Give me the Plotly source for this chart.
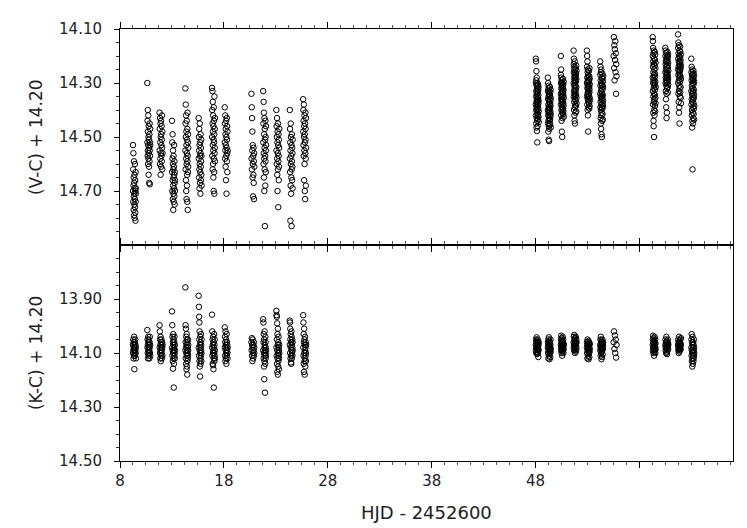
import numpy as np
import plotly.graph_objects as go
from plotly.subplots import make_subplots

# Night mid-times (HJD - 2452600)
night_hjd = [9.39, 10.77, 11.95, 13.15, 14.43, 15.71, 17.00, 18.22, 20.79, 21.92, 23.19, 24.48, 25.77,
             48.16, 49.32, 50.57, 51.80, 53.08, 54.36, 55.65, 59.41, 60.63, 61.85, 63.13]
night_span = 0.28  # duration of each night's run (days)

# (V-C) + 14.20 per night
vc_by_night = [
    [14.53, 14.70, 14.62, 14.74, 14.56, 14.68, 14.77, 14.65, 14.72, 14.59, 14.79, 14.67, 14.71, 14.75, 14.64, 14.80, 14.69, 14.73, 14.60, 14.76, 14.66, 14.78, 14.70, 14.81, 14.63, 14.74, 14.71, 14.69],
    [14.30, 14.52, 14.44, 14.57, 14.40, 14.55, 14.48, 14.60, 14.53, 14.42, 14.58, 14.50, 14.64, 14.46, 14.56, 14.51, 14.61, 14.54, 14.67, 14.49, 14.59, 14.45, 14.55, 14.675, 14.52, 14.57, 14.47, 14.53],
    [14.41, 14.55, 14.47, 14.60, 14.43, 14.52, 14.58, 14.45, 14.64, 14.50, 14.56, 14.44, 14.61, 14.49, 14.53, 14.57, 14.46, 14.59, 14.51, 14.42, 14.54, 14.62, 14.48, 14.56],
    [14.44, 14.63, 14.52, 14.70, 14.58, 14.49, 14.66, 14.73, 14.60, 14.55, 14.68, 14.77, 14.62, 14.71, 14.57, 14.65, 14.74, 14.61, 14.69, 14.53, 14.64, 14.72, 14.59, 14.67, 14.75, 14.63, 14.70, 14.66],
    [14.32, 14.55, 14.45, 14.62, 14.38, 14.50, 14.66, 14.42, 14.58, 14.70, 14.48, 14.53, 14.73, 14.60, 14.44, 14.56, 14.68, 14.51, 14.64, 14.74, 14.47, 14.59, 14.41, 14.57, 14.77, 14.52, 14.63, 14.49, 14.61, 14.54],
    [14.43, 14.58, 14.50, 14.65, 14.55, 14.47, 14.62, 14.69, 14.53, 14.60, 14.45, 14.57, 14.67, 14.52, 14.63, 14.71, 14.56, 14.49, 14.61, 14.54, 14.66, 14.59, 14.51, 14.64, 14.57, 14.68],
    [14.318, 14.50, 14.40, 14.57, 14.33, 14.45, 14.62, 14.37, 14.53, 14.48, 14.60, 14.42, 14.55, 14.65, 14.46, 14.51, 14.70, 14.39, 14.58, 14.44, 14.52, 14.63, 14.49, 14.71, 14.35, 14.56, 14.47, 14.54, 14.43, 14.59],
    [14.39, 14.52, 14.45, 14.58, 14.42, 14.55, 14.49, 14.61, 14.47, 14.53, 14.66, 14.44, 14.57, 14.50, 14.71, 14.54, 14.43, 14.59, 14.51, 14.46, 14.56, 14.63, 14.48, 14.55],
    [14.34, 14.58, 14.39, 14.62, 14.43, 14.55, 14.48, 14.65, 14.53, 14.60, 14.72, 14.57, 14.64, 14.54, 14.67, 14.59, 14.73, 14.56, 14.61],
    [14.33, 14.52, 14.45, 14.60, 14.37, 14.56, 14.41, 14.65, 14.49, 14.58, 14.70, 14.43, 14.54, 14.62, 14.47, 14.83, 14.51, 14.57, 14.68, 14.44, 14.59, 14.50, 14.63, 14.55, 14.46, 14.53],
    [14.40, 14.55, 14.46, 14.60, 14.50, 14.43, 14.58, 14.64, 14.52, 14.70, 14.48, 14.56, 14.62, 14.45, 14.53, 14.76, 14.59, 14.49, 14.57, 14.66, 14.51, 14.61, 14.54, 14.47],
    [14.40, 14.58, 14.47, 14.63, 14.52, 14.81, 14.55, 14.68, 14.45, 14.60, 14.50, 14.71, 14.57, 14.65, 14.53, 14.83, 14.62, 14.49, 14.59, 14.66, 14.54, 14.61, 14.56, 14.69, 14.51],
    [14.36, 14.48, 14.40, 14.53, 14.44, 14.57, 14.38, 14.50, 14.66, 14.46, 14.55, 14.42, 14.60, 14.49, 14.70, 14.52, 14.45, 14.73, 14.56, 14.41, 14.51, 14.47, 14.58, 14.68, 14.43, 14.54],
    [14.21, 14.38, 14.30, 14.42, 14.22, 14.35, 14.45, 14.29, 14.40, 14.33, 14.256, 14.37, 14.465, 14.31, 14.39, 14.28, 14.43, 14.34, 14.478, 14.36, 14.41, 14.32, 14.44, 14.38, 14.52, 14.30, 14.35, 14.40, 14.33, 14.46, 14.37, 14.31, 14.42, 14.36,
     14.335, 14.385, 14.305, 14.415, 14.355, 14.435, 14.325, 14.395, 14.345, 14.375, 14.425, 14.315, 14.365, 14.405, 14.445],
    [14.28, 14.40, 14.33, 14.45, 14.36, 14.30, 14.42, 14.48, 14.38, 14.32, 14.44, 14.35, 14.41, 14.51, 14.31, 14.39, 14.46, 14.34, 14.43, 14.37, 14.515, 14.40, 14.47, 14.33, 14.42, 14.36, 14.39, 14.45, 14.35, 14.41, 14.38, 14.44,
     14.345, 14.395, 14.315, 14.435, 14.375, 14.455, 14.335, 14.405, 14.365, 14.425, 14.385, 14.325, 14.415, 14.355, 14.465],
    [14.20, 14.34, 14.27, 14.38, 14.30, 14.25, 14.36, 14.42, 14.32, 14.28, 14.40, 14.35, 14.44, 14.29, 14.37, 14.31, 14.48, 14.33, 14.39, 14.34, 14.41, 14.36, 14.50, 14.30, 14.38, 14.32, 14.43, 14.35, 14.37, 14.33, 14.40, 14.31,
     14.315, 14.365, 14.285, 14.395, 14.335, 14.415, 14.305, 14.375, 14.345, 14.405, 14.325, 14.385, 14.295, 14.355, 14.425],
    [14.18, 14.30, 14.23, 14.35, 14.26, 14.21, 14.33, 14.40, 14.28, 14.24, 14.37, 14.31, 14.42, 14.25, 14.34, 14.29, 14.44, 14.27, 14.36, 14.22, 14.32, 14.39, 14.45, 14.30, 14.26, 14.35, 14.38, 14.28, 14.33, 14.31, 14.41, 14.29, 14.34,
     14.275, 14.325, 14.245, 14.365, 14.295, 14.385, 14.265, 14.345, 14.235, 14.315, 14.405, 14.285, 14.355, 14.255, 14.375],
    [14.18, 14.30, 14.24, 14.35, 14.20, 14.28, 14.38, 14.32, 14.22, 14.34, 14.26, 14.40, 14.31, 14.36, 14.25, 14.42, 14.29, 14.33, 14.27, 14.48, 14.35, 14.30, 14.37, 14.32, 14.28, 14.34, 14.39, 14.31, 14.36, 14.29,
     14.295, 14.345, 14.255, 14.375, 14.315, 14.395, 14.275, 14.335, 14.245, 14.325, 14.385, 14.285, 14.355, 14.305, 14.365],
    [14.22, 14.34, 14.27, 14.39, 14.31, 14.24, 14.37, 14.43, 14.29, 14.35, 14.45, 14.26, 14.40, 14.33, 14.47, 14.30, 14.38, 14.25, 14.42, 14.36, 14.49, 14.32, 14.41, 14.28, 14.36, 14.50, 14.34, 14.39, 14.31, 14.44, 14.35,
     14.305, 14.355, 14.265, 14.395, 14.325, 14.415, 14.285, 14.375, 14.345, 14.435, 14.295, 14.385, 14.315, 14.365, 14.275],
    [14.20, 14.13, 14.245, 14.16, 14.29, 14.175, 14.215, 14.145, 14.26, 14.19, 14.34, 14.23, 14.275],
    [14.13, 14.28, 14.20, 14.33, 14.145, 14.24, 14.38, 14.17, 14.30, 14.22, 14.41, 14.26, 14.35, 14.19, 14.44, 14.29, 14.46, 14.23, 14.32, 14.18, 14.37, 14.27, 14.50, 14.21, 14.34, 14.25, 14.40, 14.31, 14.36, 14.28, 14.42, 14.30,
     14.235, 14.305, 14.185, 14.345, 14.265, 14.385, 14.215, 14.325, 14.275, 14.405, 14.195, 14.295, 14.355, 14.245, 14.375, 14.225, 14.315],
    [14.17, 14.26, 14.20, 14.30, 14.23, 14.18, 14.28, 14.33, 14.22, 14.36, 14.25, 14.19, 14.29, 14.39, 14.24, 14.31, 14.21, 14.27, 14.43, 14.34, 14.26, 14.30, 14.22, 14.41, 14.28, 14.24, 14.32, 14.27, 14.20, 14.29,
     14.215, 14.265, 14.185, 14.295, 14.235, 14.315, 14.205, 14.275, 14.335, 14.245, 14.195, 14.285, 14.225, 14.305, 14.255],
    [14.12, 14.25, 14.17, 14.30, 14.21, 14.15, 14.27, 14.34, 14.19, 14.24, 14.37, 14.22, 14.29, 14.16, 14.33, 14.41, 14.26, 14.20, 14.31, 14.39, 14.23, 14.28, 14.18, 14.45, 14.25, 14.32, 14.22, 14.27, 14.35, 14.24,
     14.205, 14.255, 14.165, 14.295, 14.225, 14.335, 14.185, 14.275, 14.215, 14.315, 14.245, 14.355, 14.195, 14.285, 14.235, 14.375],
    [14.21, 14.33, 14.26, 14.38, 14.29, 14.24, 14.36, 14.42, 14.31, 14.27, 14.40, 14.34, 14.465, 14.28, 14.37, 14.25, 14.44, 14.32, 14.62, 14.35, 14.30, 14.41, 14.27, 14.39, 14.33, 14.45, 14.30, 14.36, 14.29, 14.43,
     14.285, 14.335, 14.255, 14.375, 14.305, 14.415, 14.265, 14.355, 14.325, 14.395, 14.275, 14.345, 14.435, 14.295, 14.385],
]

# (K-C) + 14.20 per night
kc_by_night = [
    [14.07, 14.10, 14.05, 14.09, 14.12, 14.06, 14.08, 14.11, 14.04, 14.09, 14.16, 14.07, 14.10, 14.06, 14.08, 14.11, 14.05, 14.09, 14.07, 14.10, 14.08, 14.12],
    [14.015, 14.08, 14.05, 14.10, 14.07, 14.12, 14.04, 14.09, 14.06, 14.11, 14.08, 14.05, 14.10, 14.07, 14.09, 14.12, 14.06, 14.08, 14.04, 14.10, 14.07, 14.11],
    [13.997, 14.08, 14.02, 14.10, 14.05, 14.12, 14.07, 14.04, 14.09, 14.13, 14.06, 14.11, 14.08, 14.05, 14.10, 14.07, 14.09, 14.12, 14.06, 14.08, 14.11, 14.07],
    [13.946, 14.08, 13.997, 14.11, 14.04, 14.09, 14.13, 14.06, 14.158, 14.10, 14.03, 14.07, 14.12, 14.05, 14.228, 14.09, 14.14, 14.08, 14.06, 14.11, 14.04, 14.10, 14.07, 14.12, 14.09],
    [13.857, 14.09, 13.997, 14.06, 14.12, 14.01, 14.08, 14.14, 14.04, 14.10, 14.16, 14.07, 14.03, 14.11, 14.15, 14.05, 14.09, 14.18, 14.13, 14.06, 14.10, 14.08, 14.12, 14.05, 14.11, 14.09, 14.07],
    [13.888, 14.08, 13.929, 14.11, 13.966, 14.05, 13.987, 14.13, 14.02, 14.09, 14.15, 14.07, 14.187, 14.04, 14.10, 14.12, 14.06, 14.14, 14.08, 14.03, 14.11, 14.09, 14.07, 14.13, 14.10, 14.05],
    [13.958, 14.08, 14.02, 14.11, 14.05, 14.14, 14.07, 14.10, 14.145, 14.04, 14.09, 14.16, 14.06, 14.12, 14.228, 14.08, 14.03, 14.10, 14.13, 14.07, 14.11, 14.05, 14.09, 14.12],
    [14.005, 14.08, 14.04, 14.11, 14.06, 14.13, 14.02, 14.09, 14.07, 14.12, 14.05, 14.10, 14.14, 14.08, 14.03, 14.11, 14.06, 14.09, 14.07, 14.10, 14.12, 14.08],
    [14.06, 14.09, 14.045, 14.11, 14.07, 14.13, 14.08, 14.05, 14.10, 14.12, 14.07, 14.09, 14.06, 14.11, 14.08, 14.10],
    [13.975, 14.09, 13.987, 14.06, 14.12, 14.03, 14.10, 14.15, 14.05, 14.197, 14.08, 14.13, 14.02, 14.11, 14.07, 14.247, 14.09, 14.14, 14.04, 14.10, 14.06, 14.12, 14.08, 14.11, 14.09],
    [13.944, 14.08, 13.96, 14.11, 13.966, 14.05, 14.14, 13.99, 14.09, 14.17, 14.03, 14.12, 14.07, 14.18, 14.01, 14.10, 14.15, 14.06, 14.13, 14.04, 14.11, 14.08, 14.16, 14.09, 14.12, 14.07, 14.10],
    [13.98, 14.07, 13.987, 14.10, 14.01, 14.05, 14.12, 14.03, 14.08, 14.135, 14.06, 14.11, 14.14, 14.02, 14.09, 14.04, 14.12, 14.07, 14.10, 14.05, 14.08, 14.11, 14.06, 14.09],
    [13.96, 14.08, 13.987, 14.11, 14.03, 14.14, 14.06, 14.17, 14.01, 14.10, 14.05, 14.13, 14.18, 14.07, 14.12, 14.04, 14.09, 14.15, 14.08, 14.11, 14.06, 14.10, 14.13, 14.07],
    [14.07, 14.09, 14.05, 14.08, 14.10, 14.06, 14.075, 14.042, 14.095, 14.065, 14.085, 14.055, 14.104, 14.07, 14.09, 14.06, 14.08, 14.05, 14.10, 14.075, 14.065, 14.085, 14.115, 14.07, 14.09, 14.06],
    [14.08, 14.06, 14.10, 14.07, 14.12, 14.05, 14.09, 14.075, 14.042, 14.11, 14.065, 14.085, 14.095, 14.055, 14.123, 14.07, 14.09, 14.06, 14.10, 14.08, 14.115, 14.07, 14.05, 14.095, 14.085],
    [14.07, 14.05, 14.09, 14.036, 14.08, 14.06, 14.10, 14.075, 14.045, 14.085, 14.065, 14.11, 14.055, 14.095, 14.07, 14.04, 14.08, 14.06, 14.09, 14.075, 14.05, 14.10, 14.065, 14.085, 14.07],
    [14.06, 14.08, 14.04, 14.07, 14.09, 14.033, 14.065, 14.085, 14.05, 14.075, 14.10, 14.055, 14.07, 14.045, 14.09, 14.06, 14.08, 14.04, 14.095, 14.065, 14.075, 14.05, 14.085, 14.06],
    [14.08, 14.06, 14.10, 14.07, 14.12, 14.05, 14.09, 14.075, 14.11, 14.065, 14.085, 14.095, 14.055, 14.123, 14.07, 14.09, 14.06, 14.10, 14.08, 14.115, 14.07, 14.095, 14.085, 14.065],
    [14.07, 14.09, 14.05, 14.08, 14.11, 14.04, 14.10, 14.065, 14.085, 14.055, 14.123, 14.075, 14.095, 14.06, 14.115, 14.07, 14.09, 14.05, 14.08, 14.105, 14.065, 14.085, 14.075, 14.06],
    [14.06, 14.02, 14.085, 14.035, 14.10, 14.05, 14.117, 14.07],
    [14.07, 14.05, 14.09, 14.036, 14.08, 14.06, 14.10, 14.075, 14.045, 14.085, 14.065, 14.11, 14.055, 14.095, 14.07, 14.04, 14.08, 14.06, 14.09, 14.075, 14.05, 14.10, 14.065, 14.085],
    [14.07, 14.05, 14.09, 14.08, 14.06, 14.10, 14.075, 14.04, 14.085, 14.065, 14.095, 14.055, 14.104, 14.07, 14.08, 14.06, 14.09, 14.075, 14.05, 14.065, 14.085, 14.07],
    [14.07, 14.05, 14.09, 14.08, 14.06, 14.10, 14.075, 14.04, 14.085, 14.065, 14.095, 14.055, 14.07, 14.08, 14.06, 14.09, 14.075, 14.05, 14.065, 14.085, 14.07, 14.045],
    [14.08, 14.05, 14.11, 14.03, 14.09, 14.13, 14.06, 14.10, 14.15, 14.07, 14.12, 14.04, 14.09, 14.14, 14.08, 14.11, 14.06, 14.10, 14.13, 14.07, 14.12, 14.09, 14.05, 14.11, 14.08, 14.10],
]

x_ticks = [8, 18, 28, 38, 48, 58]
x_tick_text = ["8", "18", "28", "38", "48", ""]
vc_ticks = [14.10, 14.30, 14.50, 14.70]
kc_ticks = [13.90, 14.10, 14.30, 14.50]


def expand(values_by_night):
    xs, ys = [], []
    for t, vals in zip(night_hjd, values_by_night):
        n = len(vals)
        times = t + np.linspace(-night_span / 2, night_span / 2, n)
        xs.extend(times.tolist())
        ys.extend(vals)
    return xs, ys


vx, vy = expand(vc_by_night)
kx, ky = expand(kc_by_night)

fig = make_subplots(rows=2, cols=1, shared_xaxes=True, vertical_spacing=0)

marker = dict(symbol="circle-open", size=5.5, color="black", line=dict(width=1, color="black"))
fig.add_trace(go.Scatter(x=vx, y=vy, mode="markers", marker=marker, showlegend=False), row=1, col=1)
fig.add_trace(go.Scatter(x=kx, y=ky, mode="markers", marker=marker, showlegend=False), row=2, col=1)

font = dict(family="DejaVu Sans", size=15, color="#222")
# minor ticks every 1.25 d, skipping the positions of the labelled major ticks
x_minor = [round(8 + 1.25 * i, 2) for i in range(48) if i % 8 != 0]
xcommon = dict(range=[8, 67], showline=True, linecolor="black", linewidth=1, mirror="ticks",
               ticks="outside", ticklen=6, tickcolor="black", showgrid=False, zeroline=False,
               tickmode="array", tickvals=x_ticks, ticktext=x_tick_text, tickfont=font,
               minor=dict(tickmode="array", tickvals=x_minor, ticklen=3, ticks="outside",
                          tickcolor="#555", showgrid=False))
fig.update_xaxes(**xcommon)
fig.update_xaxes(showticklabels=False, row=1, col=1)
fig.update_xaxes(showticklabels=True, row=2, col=1)

ycommon = dict(showline=True, linecolor="black", linewidth=1, mirror=True, ticks="outside",
               ticklen=5, tickcolor="black", showgrid=False, zeroline=False, tickfont=font,
               tickformat=".2f", ticklabelstandoff=9)
fig.update_yaxes(**ycommon)
fig.update_yaxes(range=[14.90, 14.10], tickmode="array", tickvals=vc_ticks,
                 minor=dict(tickmode="array", tickvals=[round(14.15 + 0.05 * i, 2) for i in range(16) if i % 4 != 3],
                            ticklen=3, ticks="outside", tickcolor="#333", showgrid=False),
                 row=1, col=1)
fig.update_yaxes(range=[14.50, 13.70], tickmode="array", tickvals=kc_ticks,
                 minor=dict(tickmode="array", tickvals=[round(13.75 + 0.05 * i, 2) for i in range(15) if i % 4 != 3],
                            ticklen=3, ticks="outside", tickcolor="#333", showgrid=False),
                 row=2, col=1)

title_font = dict(family="DejaVu Sans", size=17, color="#222")
fig.add_annotation(text="(V-C) + 14.20", xref="paper", yref="paper", x=-0.137, y=0.75,
                   textangle=-90, showarrow=False, font=title_font, xanchor="center", yanchor="middle")
fig.add_annotation(text="(K-C) + 14.20", xref="paper", yref="paper", x=-0.137, y=0.25,
                   textangle=-90, showarrow=False, font=title_font, xanchor="center", yanchor="middle")
fig.add_annotation(text="HJD - 2452600", xref="paper", yref="paper", x=0.5, y=-0.12,
                   showarrow=False, font=dict(family="DejaVu Sans", size=18, color="#222"),
                   xanchor="center", yanchor="middle")

fig.update_layout(width=747, height=528, margin=dict(l=112, r=22, t=21, b=75),
                  paper_bgcolor="white", plot_bgcolor="white")

fig.write_html("out.html")
